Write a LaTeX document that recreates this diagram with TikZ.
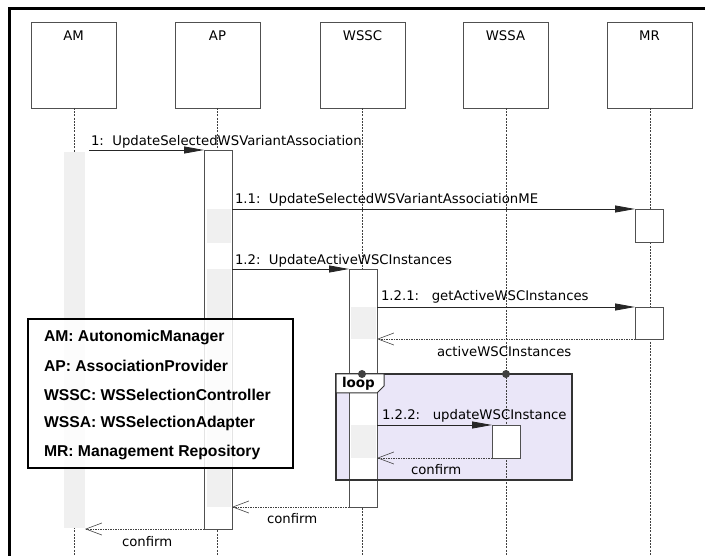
\documentclass[tikz,border=0pt]{standalone}
\usepackage{fontspec}
\setmainfont{DejaVu Sans}
\newfontfamily\legendfont{Liberation Sans}
\usetikzlibrary{arrows.meta}
\definecolor{loopfill}{HTML}{EAE6F8}
\definecolor{execgray}{HTML}{F0F0F0}
\definecolor{edge}{HTML}{505050}

\begin{document}
\begin{tikzpicture}[x=1pt,y=-1pt,
  every node/.style={inner sep=0pt, outer sep=0pt},
  lifebox/.style={draw=edge, line width=0.8pt, fill=white, minimum width=85pt, minimum height=86pt},
  lbl/.style={font=\fontsize{13.25}{15}\selectfont, text=black},
  lifeline/.style={draw=black!75, line width=0.7pt, dash pattern=on 2pt off 1.2pt},
  act/.style={draw=edge, line width=0.8pt, fill=white, minimum width=28pt},
  exec/.style={fill=execgray, minimum width=24pt},
  msg/.style={draw=black!85, line width=0.8pt, -{Triangle[length=20pt,width=7pt]}},
  ret/.style={draw=black!75, line width=0.7pt, dash pattern=on 1.5pt off 1pt,
    -{Straight Barb[length=16pt,width=12pt,line width=0.6pt]}},
  dot/.style={circle, fill=black!75, minimum size=8pt},
  legtext/.style={font=\legendfont\bfseries\fontsize{15.7}{17}\selectfont, anchor=west}]

\useasboundingbox (0,0) rectangle (705,556);

% outer frame (top and left edges)
\draw[line width=3pt] (9,556) -- (9,9) -- (705,9);

% loop fragment background
\fill[loopfill] (336,374) rectangle (572,480);

% lifeline heads
\node[lifebox] (am)   at (73.5,65) {};
\node[lifebox] (ap)   at (217.5,65) {};
\node[lifebox] (wssc) at (362.5,65) {};
\node[lifebox] (wssa) at (505.5,65) {};
\node[lifebox] (mr)   at (649.5,65) {};
\node[lbl] (amt)   at (73.5,36) {AM};
\node[lbl] (apt)   at (217.5,36) {AP};
\node[lbl] (wssct) at (362.5,36) {WSSC};
\node[lbl] (wssat) at (505.5,36) {WSSA};
\node[lbl] (mrt)   at (649.5,36) {MR};

% lifelines
\coordinate (amend)   at (74,556);
\coordinate (apend)   at (217,556);
\coordinate (wsscend) at (362,556);
\coordinate (wssaend) at (506,556);
\coordinate (mrend)   at (650,556);
\draw[lifeline] (74,108) -- (amend);
\draw[lifeline] (217,108) -- (apend);
\draw[lifeline] (362,108) -- (wsscend);
\draw[lifeline] (506,108) -- (wssaend);
\draw[lifeline] (650,108) -- (mrend);

% activations
\node[fill=execgray, minimum width=21pt, minimum height=376pt] (amA) at (74.5,340) {};
\node[act, minimum height=379pt] (apA) at (218,339.5) {};
\node[exec, minimum height=34pt]  (apE1) at (219,226) {};
\node[exec, minimum height=238pt] (apE2) at (219,388) {};
\node[act, minimum height=238pt] (wsA) at (363,388) {};
\node[exec, minimum width=25pt, minimum height=32pt] (wsE1) at (363.5,323) {};
\node[exec, minimum width=25pt, minimum height=33pt] (wsE2) at (363.5,441.5) {};
\node[act, minimum height=33pt] (waA) at (506,441.5) {};
\node[act, minimum height=33pt] (mrA1) at (649,225.5) {};
\node[act, minimum height=32pt] (mrA2) at (649,323) {};

% loop fragment frame
\draw[draw=black!80, line width=1.5pt] (336,374) rectangle (572,480);
\draw[draw=black!80, line width=1pt, fill=white]
  (336,374) -- (384,374) -- (384,386) -- (377,393) -- (336,393) -- cycle;
\node[font=\bfseries\fontsize{13.5}{15}\selectfont, anchor=west] (looplbl) at (342,384) {loop};
\node[dot] (d1) at (362,374) {};
\node[dot] (d2) at (506,374) {};

% messages
\coordinate (m1src) at (89,150);
\draw[msg] (m1src) -- (apA.north west);
\node[lbl, anchor=west] (m1) at (91,142) {1:\ \ UpdateSelectedWSVariantAssociation};

\draw[msg] (apA.east |- mrA1.north) -- (mrA1.north west);
\node[lbl, anchor=west] (m11) at (235,200) {1.1:\ \ UpdateSelectedWSVariantAssociationME};

\draw[msg] (apA.east |- wsA.north) -- (wsA.north west);
\node[lbl, anchor=west] (m12) at (235,261) {1.2:\ \ UpdateActiveWSCInstances};

\draw[msg] (wsA.east |- mrA2.north) -- (mrA2.north west);
\node[lbl, anchor=west] (m121) at (381,297) {1.2.1:\ \ \ getActiveWSCInstances};

\draw[ret] (mrA2.south west) -- (wsA.east |- mrA2.south);
\node[lbl, anchor=west] (r121) at (437,352) {activeWSCInstances};

\draw[msg] (wsA.east |- waA.north) -- (waA.north west);
\node[lbl, anchor=west] (m122) at (382,416) {1.2.2:\ \ \ updateWSCInstance};

\draw[ret] (waA.south west) -- (wsA.east |- waA.south);
\node[lbl, anchor=west] (r122) at (411,470) {confirm};

\draw[ret] (wsA.south west) -- (apA.east |- wsA.south);
\node[lbl, anchor=west] (r12) at (267,519) {confirm};

\draw[ret] (apA.south west) -- (amA.east |- apA.south);
\node[lbl, anchor=west] (r1) at (122,542) {confirm};

% legend
\node[draw=black, line width=2pt, fill=white, fill opacity=0.85,
  minimum width=265pt, minimum height=149pt] (legend) at (160.5,393.5) {};
\node[legtext] (l1) at (44,337) {AM: AutonomicManager};
\node[legtext] (l2) at (44,366) {AP: AssociationProvider};
\node[legtext] (l3) at (44,394.5) {WSSC: WSSelectionController};
\node[legtext] (l4) at (44,423) {WSSA: WSSelectionAdapter};
\node[legtext] (l5) at (44,452) {MR: Management Repository};
\end{tikzpicture}
\end{document}
